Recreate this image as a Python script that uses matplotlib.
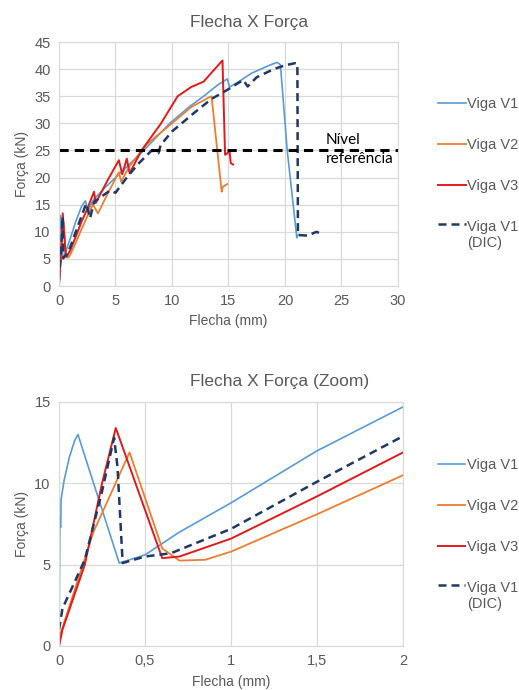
import numpy as np
import matplotlib
matplotlib.use("Agg")
from matplotlib import pyplot as plt
from matplotlib.ticker import FuncFormatter

plt.rcParams["font.family"] = ["Liberation Sans", "DejaVu Sans"]

# data (flecha mm, força kN)
v1_x = [0, 0.005, 0.01, 0.012, 0.03, 0.06, 0.09, 0.11, 0.35, 0.5, 0.7, 1.0, 1.5, 2.0,
        2.33, 2.57, 3.0, 4.0, 5.0, 6.0, 7.5, 9.8, 11.5, 12.8, 14.0, 14.9, 15.1, 16.0,
        17.0, 18.5, 19.3, 19.6, 20.2, 21.05, 21.2]
v1_y = [0, 7.5, 7.3, 9.0, 10.2, 11.6, 12.6, 13.0, 5.1, 5.6, 7.0, 8.8, 12.0, 14.7,
        15.7, 13.9, 15.8, 18.0, 20.0, 22.0, 25.0, 30.0, 33.0, 35.0, 37.0, 38.2, 36.7, 37.8,
        39.2, 40.6, 41.25, 40.8, 25.0, 8.9, 9.5]

v2_x = [0, 0.01, 0.2, 0.41, 0.6, 0.7, 0.85, 1.0, 1.5, 2.0, 2.5, 3.0, 3.45, 4.3, 5.3,
        5.5, 6.2, 7.8, 10.0, 11.7, 13.2, 13.5, 14.4, 14.5, 14.9]
v2_y = [0, 0.8, 7.0, 11.9, 6.0, 5.25, 5.3, 5.8, 8.1, 10.5, 12.8, 15.0, 13.4, 17.0, 21.0,
        19.2, 22.0, 26.2, 30.0, 33.0, 34.7, 35.0, 17.4, 18.3, 18.8]

v3_x = [0, 0.02, 0.15, 0.25, 0.33, 0.6, 0.7, 1.0, 1.5, 2.0, 2.5, 3.1, 3.25, 4.3, 5.3,
        5.6, 6.0, 6.25, 7.3, 9.0, 10.5, 11.7, 12.8, 14.47, 14.7, 15.1, 15.2, 15.4]
v3_y = [0, 1.0, 5.0, 10.0, 13.4, 5.4, 5.5, 6.6, 9.2, 11.9, 14.2, 17.4, 15.3, 19.5, 23.2,
        20.6, 23.5, 20.8, 25.0, 29.9, 35.0, 36.7, 37.7, 41.6, 24.2, 24.8, 22.7, 22.4]

dic_x = [0, 0.02, 0.15, 0.25, 0.32, 0.34, 0.37, 0.5, 0.65, 1.0, 1.5, 2.0, 2.4, 2.75,
         3.1, 4.5, 5.0, 6.0, 7.0, 8.2, 8.8, 9.0, 10.0, 12.0, 13.5, 15.0, 16.3, 16.7,
         17.5, 19.0, 20.0, 20.9, 21.1, 21.15, 22.0, 22.8, 23.1]
dic_y = [1.0, 2.3, 5.3, 9.5, 12.8, 11.0, 5.1, 5.5, 5.7, 7.2, 10.1, 12.9, 15.2, 12.5,
         15.5, 17.6, 17.2, 20.0, 22.5, 25.0, 24.5, 26.0, 28.5, 32.0, 34.5, 36.3, 38.0, 36.8,
         38.5, 40.0, 40.7, 41.1, 41.0, 9.4, 9.3, 10.0, 9.7]

ref_level = 25
labels = ["Viga V1", "Viga V2", "Viga V3", "Viga V1\n(DIC)"]

c_v1 = "#5B9BD5"
c_v2 = "#ED7D31"
c_v3 = "#E31A1C"
c_dic = "#1F3864"
txt = "#595959"
grid = "#D9D9D9"

fig = plt.figure(figsize=(5.19, 6.90), dpi=100)
ax1 = fig.add_axes([0.1137, 0.5855, 0.653, 0.3536])
ax2 = fig.add_axes([0.1137, 0.0638, 0.663, 0.3536])


def draw(ax):
    ax.plot(v1_x, v1_y, color=c_v1, lw=1.2, label=labels[0])
    ax.plot(v2_x, v2_y, color=c_v2, lw=1.3, label=labels[1])
    ax.plot(v3_x, v3_y, color=c_v3, lw=1.4, label=labels[2])
    ax.plot(dic_x, dic_y, color=c_dic, lw=1.8, dashes=(3.2, 2.0), label=labels[3])
    ax.grid(True, color=grid, lw=0.9)
    ax.set_axisbelow(True)
    for s in ax.spines.values():
        s.set_color(grid)
    ax.tick_params(length=0, labelsize=10.5, labelcolor=txt, pad=6)
    ax.set_xlabel("Flecha (mm)", fontsize=10, color=txt, labelpad=4)
    ax.set_ylabel("Força (kN)", fontsize=10, color=txt, labelpad=4)


def legend(ax, anchor):
    leg = ax.legend(loc="upper left", bbox_to_anchor=anchor, frameon=False, fontsize=10.5,
                    labelcolor=txt, handlelength=1.9, handletextpad=0.1, labelspacing=1.85)
    # dashed handle next to the first line of the two-line label
    h = leg.legend_handles[3]
    h.set_ydata(np.asarray(h.get_ydata()) + 8.5)
    return leg


# top chart
draw(ax1)
ax1.plot([0, 30], [ref_level, ref_level], color="black", lw=2.2, dashes=(3.0, 2.0))
ax1.text(23.6, 25.2, "Nível\nreferência", fontsize=11, family=["Lato", "DejaVu Sans"],
         color="black", va="center", ha="left", linespacing=1.45)
ax1.set_xlim(0, 30)
ax1.set_ylim(0, 45)
ax1.set_xticks(np.arange(0, 31, 5))
ax1.set_yticks(np.arange(0, 46, 5))
fig.text(0.366, 0.968, "Flecha X Força", fontsize=12.5, color=txt, ha="left", va="center")
legend(ax1, (1.08, 0.828))

# zoom chart
draw(ax2)
ax2.set_xlim(0, 2)
ax2.set_ylim(0, 15)
ax2.set_xticks([0, 0.5, 1, 1.5, 2])
ax2.set_yticks([0, 5, 10, 15])
ax2.xaxis.set_major_formatter(FuncFormatter(lambda v, p: ("%g" % v).replace(".", ",")))
ax2.xaxis.labelpad = 5
fig.text(0.366, 0.447, "Flecha X Força (Zoom)", fontsize=12.5, color=txt, ha="left", va="center")
legend(ax2, (1.062, 0.824))

fig.savefig("out.png", dpi=100)
